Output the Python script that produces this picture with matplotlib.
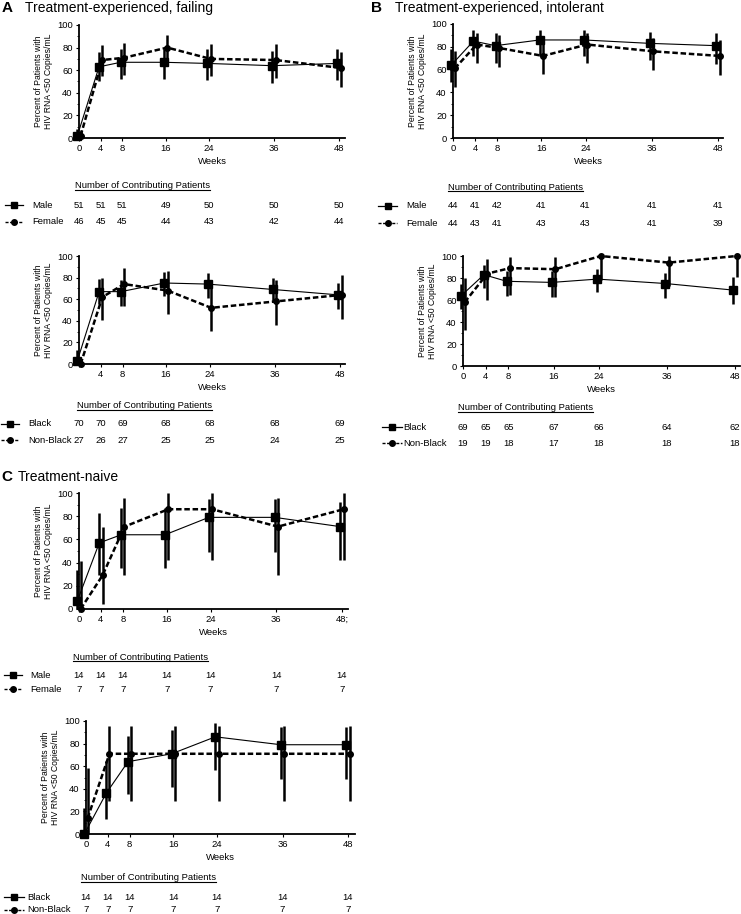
import matplotlib
matplotlib.use("Agg")
import matplotlib.pyplot as plt
from matplotlib.lines import Line2D
from matplotlib.transforms import blended_transform_factory
from matplotlib.ticker import MultipleLocator

plt.rcParams['font.family'] = ['Liberation Sans', 'DejaVu Sans']

W, H = 741, 914
fig = plt.figure(figsize=(W / 100, H / 100), dpi=100)

weeks = [0, 4, 8, 16, 24, 36, 48]

# ---- Panel A: treatment-experienced, failing ----
a_male = [2, 63, 67, 67, 66, 64, 66]
a_male_lo = [0, 50, 52, 52, 51, 49, 51]
a_male_hi = [8, 76, 79, 79, 79, 77, 79]
a_female = [2, 69, 71, 80, 70, 69, 62]
a_female_lo = [0, 55, 56, 67, 55, 53, 45]
a_female_hi = [7, 82, 84, 91, 83, 83, 76]
a_n_male = [51, 51, 51, 49, 50, 50, 50]
a_n_female = [46, 45, 45, 44, 43, 42, 44]

a_black = [3, 67, 67, 75, 74, 69, 64]
a_black_lo = [0, 56, 54, 63, 61, 58, 51]
a_black_hi = [13, 79, 78, 85, 84, 80, 75]
a_nonblack = [0, 62, 74, 68, 52, 58, 64]
a_nonblack_lo = [0, 41, 54, 46, 31, 36, 42]
a_nonblack_hi = [4, 80, 89, 86, 72, 78, 82]
a_n_black = [70, 70, 69, 68, 68, 68, 69]
a_n_nonblack = [27, 26, 27, 25, 25, 24, 25]

# ---- Panel B: treatment-experienced, intolerant ----
b_male = [64, 85, 81, 86, 86, 83, 81]
b_male_lo = [49, 72, 66, 72, 72, 68, 65]
b_male_hi = [78, 95, 92, 95, 95, 93, 92]
b_female = [61, 82, 79, 72, 82, 76, 72]
b_female_lo = [45, 66, 62, 56, 66, 60, 55]
b_female_hi = [76, 92, 90, 85, 92, 88, 86]
b_n_male = [44, 41, 42, 41, 41, 41, 41]
b_n_female = [44, 43, 41, 43, 43, 41, 39]

b_black = [64, 83, 77, 76, 79, 75, 69]
b_black_lo = [52, 71, 64, 63, 67, 62, 56]
b_black_hi = [75, 92, 86, 86, 88, 85, 81]
b_nonblack = [58, 84, 89, 88, 100, 94, 100]
b_nonblack_lo = [33, 60, 65, 63, 78, 73, 81]
b_nonblack_hi = [80, 97, 99, 99, 100, 100, 100]
b_n_black = [69, 65, 65, 67, 66, 64, 62]
b_n_nonblack = [19, 19, 18, 17, 18, 18, 18]

# ---- Panel C: treatment-naive ----
c_male = [7, 57, 64, 64, 79, 79, 71]
c_male_lo = [0, 29, 35, 35, 49, 49, 42]
c_male_hi = [34, 83, 87, 87, 95, 95, 92]
c_female = [0, 29, 71, 86, 86, 71, 86]
c_female_lo = [0, 4, 29, 42, 42, 29, 42]
c_female_hi = [41, 71, 96, 100, 100, 96, 100]
c_n_male = [14, 14, 14, 14, 14, 14, 14]
c_n_female = [7, 7, 7, 7, 7, 7, 7]

c_black = [0, 36, 64, 71, 86, 79, 79]
c_black_lo = [0, 13, 35, 42, 57, 49, 49]
c_black_hi = [23, 65, 87, 92, 98, 95, 95]
c_nonblack = [14, 71, 71, 71, 71, 71, 71]
c_nonblack_lo = [0, 29, 29, 29, 29, 29, 29]
c_nonblack_hi = [58, 96, 96, 96, 96, 96, 96]
c_n_black = [14, 14, 14, 14, 14, 14, 14]
c_n_nonblack = [7, 7, 7, 7, 7, 7, 7]

xt_full = ['0', '4', '8', '16', '24', '36', '48']
xt_c_top = ['0', '4', '8', '16', '24', '36', '48;']
xt_no0 = ['', '4', '8', '16', '24', '36', '48']

FS = 6.8
DODGE = 0.3


def fx(x):
    return x / W


def fy(y):
    return 1 - y / H


def make_axes(x0, x48, ytop, ybot, xright):
    ppw = (x48 - x0) / 48.0
    xmax = (xright - x0) / ppw
    ax = fig.add_axes([fx(x0), fy(ybot), (xright - x0) / W, (ybot - ytop) / H])
    ax.set_xlim(0, xmax)
    ax.set_ylim(0, 100)
    return ax


def plot_panel(ax, s1, s1lo, s1hi, s2, s2lo, s2hi, xlabels):
    xs1 = [w - DODGE for w in weeks]
    xs2 = [w + DODGE for w in weeks]
    ax.vlines(xs1, s1lo, s1hi, color='black', lw=1.8, clip_on=False, zorder=3)
    ax.vlines(xs2, s2lo, s2hi, color='black', lw=1.8, clip_on=False, zorder=3)
    ax.plot(xs1, s1, color='black', lw=0.8, marker='s', ms=5.5, clip_on=False, zorder=4)
    ax.plot(xs2, s2, color='black', lw=1.8, ls=(0, (2.2, 1.1)), marker='o', ms=4,
            clip_on=False, zorder=5)
    for sp in ['top', 'right']:
        ax.spines[sp].set_visible(False)
    for sp in ['left', 'bottom']:
        ax.spines[sp].set_linewidth(1.3)
    ax.set_xticks(weeks)
    ax.set_xticklabels(xlabels)
    ax.set_yticks([0, 20, 40, 60, 80, 100])
    ax.yaxis.set_minor_locator(MultipleLocator(10))
    ax.tick_params(axis='both', which='major', labelsize=FS, length=2.5, width=0.8,
                   pad=2, direction='out')
    ax.tick_params(axis='y', which='minor', length=1.5, width=0.6)
    ax.set_xlabel('Weeks', fontsize=FS, labelpad=3)
    ax.set_ylabel('Percent of Patients with\nHIV RNA <50 Copies/mL', fontsize=6.2,
                  labelpad=3, linespacing=1.1)


headings = []


def table(ax, head_x, head_y, row_ys, names, counts, leg_x0, leg_x1, label_x):
    t = fig.text(fx(head_x), fy(head_y), 'Number of Contributing Patients',
                 fontsize=FS, ha='left', va='center')
    headings.append(t)
    tr = blended_transform_factory(ax.transData, fig.transFigure)
    styles = [dict(ls='-', lw=0.9, marker='s', ms=5),
              dict(ls=(0, (2.2, 1.1)), lw=1.0, marker='o', ms=4)]
    for ry, name, cnt, st in zip(row_ys, names, counts, styles):
        fig.add_artist(Line2D([fx(leg_x0), fx(leg_x1)], [fy(ry), fy(ry)],
                              color='black', ls=st['ls'], lw=st['lw'],
                              transform=fig.transFigure))
        fig.add_artist(Line2D([fx((leg_x0 + leg_x1) / 2)], [fy(ry)], color='black',
                              marker=st['marker'], ms=st['ms'], ls='none',
                              transform=fig.transFigure))
        fig.text(fx(label_x), fy(ry), name, fontsize=FS, ha='left', va='center')
        for w, n in zip(weeks, cnt):
            ax.text(w, fy(ry), str(n), fontsize=FS, ha='center', va='center',
                    transform=tr)


# Titles
fig.text(fx(2), fy(8), 'A', fontsize=11, fontweight='bold', ha='left', va='center')
fig.text(fx(25), fy(8), 'Treatment-experienced, failing', fontsize=10, ha='left', va='center')
fig.text(fx(371), fy(8), 'B', fontsize=11, fontweight='bold', ha='left', va='center')
fig.text(fx(395), fy(8), 'Treatment-experienced, intolerant', fontsize=10, ha='left', va='center')
fig.text(fx(1), fy(477), 'C', fontsize=11, fontweight='bold', ha='left', va='center')
fig.text(fx(18), fy(477), 'Treatment-naive', fontsize=10, ha='left', va='center')

# Panel A top
ax = make_axes(79, 339, 25, 138, 345)
plot_panel(ax, a_male, a_male_lo, a_male_hi, a_female, a_female_lo, a_female_hi, xt_full)
table(ax, 75, 186, [205, 222], ['Male', 'Female'], [a_n_male, a_n_female], 5, 23, 32)

# Panel A bottom
ax = make_axes(79, 340, 256, 364, 345)
plot_panel(ax, a_black, a_black_lo, a_black_hi, a_nonblack, a_nonblack_lo, a_nonblack_hi, xt_no0)
table(ax, 77, 406, [424, 440], ['Black', 'Non-Black'], [a_n_black, a_n_nonblack], 1, 19, 28)

# Panel B top
ax = make_axes(453, 718, 24, 138, 723)
plot_panel(ax, b_male, b_male_lo, b_male_hi, b_female, b_female_lo, b_female_hi, xt_full)
table(ax, 448, 187, [206, 223], ['Male', 'Female'], [b_n_male, b_n_female], 378, 397, 406)

# Panel B bottom
ax = make_axes(463, 735, 256, 366, 740)
plot_panel(ax, b_black, b_black_lo, b_black_hi, b_nonblack, b_nonblack_lo, b_nonblack_hi, xt_full)
table(ax, 458, 408, [427, 443], ['Black', 'Non-Black'], [b_n_black, b_n_nonblack], 382, 402, 403)

# Panel C top
ax = make_axes(79, 342, 493, 609, 348)
plot_panel(ax, c_male, c_male_lo, c_male_hi, c_female, c_female_lo, c_female_hi, xt_c_top)
table(ax, 73, 657, [675, 689], ['Male', 'Female'], [c_n_male, c_n_female], 4, 22, 30)

# Panel C bottom
ax = make_axes(86, 348, 721, 834, 355)
plot_panel(ax, c_black, c_black_lo, c_black_hi, c_nonblack, c_nonblack_lo, c_nonblack_hi, xt_full)
table(ax, 81, 878, [897, 910], ['Black', 'Non-Black'], [c_n_black, c_n_nonblack], 4, 24, 27)

# underline the table headings
fig.canvas.draw()
renderer = fig.canvas.get_renderer()
for t in headings:
    bb = t.get_window_extent(renderer)
    yline = (bb.y0 + 0.5) / fig.bbox.height
    fig.add_artist(Line2D([bb.x0 / fig.bbox.width, bb.x1 / fig.bbox.width], [yline, yline],
                          color='black', lw=0.8, transform=fig.transFigure))

fig.savefig('out.png', dpi=100, facecolor='white')
